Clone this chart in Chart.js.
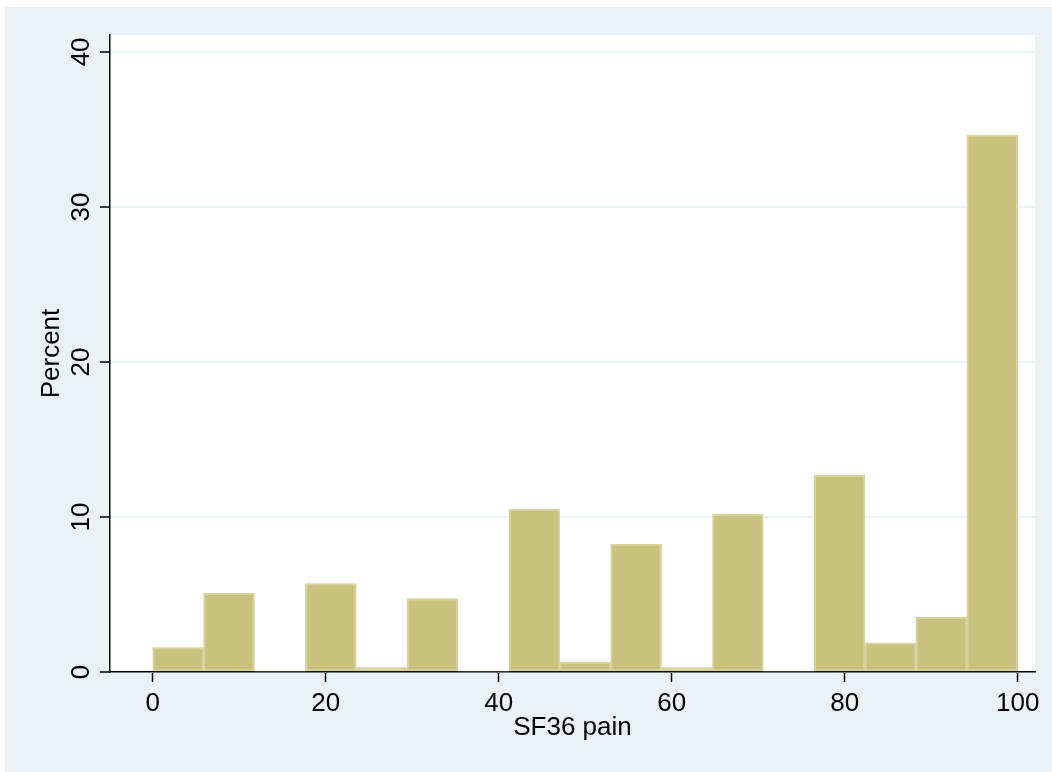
<!DOCTYPE html>
<html>
<head>
<meta charset="utf-8">
<script src="https://cdn.jsdelivr.net/npm/chart.js@4/dist/chart.umd.min.js"></script>
<style>
  html, body { margin: 0; padding: 0; background: #ffffff; }
  #wrap { width: 1052px; height: 772px; }
</style>
</head>
<body>
<div id="wrap"><canvas id="hist" width="1052" height="772"></canvas></div>
<script>
// Histogram of SF36 pain scores: 17 bins of equal width over 0–100
const binCenters = [2.94, 8.82, 14.71, 20.59, 26.47, 32.35, 38.24, 44.12, 50.00,
                    55.88, 61.76, 67.65, 73.53, 79.41, 85.29, 91.18, 97.06];
const percents   = [1.58, 5.07, 0, 5.71, 0.29, 4.74, 0, 10.49, 0.63,
                    8.23, 0.29, 10.17, 0, 12.69, 1.88, 3.52, 34.64];
const xTickValues = [0, 20, 40, 60, 80, 100];
const yTickValues = [0, 10, 20, 30, 40];
const xTitle = 'SF36 pain';
const yTitle = 'Percent';

const FONT = 'Liberation Sans, Arial, Helvetica, sans-serif';
const OUTER_BG = '#EAF2F3';
const BAR_FILL = '#C9C27F';
const BAR_EDGE = '#D8D39D';

// Paints the outer panel and the white plot region
const backdrop = {
  id: 'backdrop',
  beforeDraw(chart) {
    const { ctx, width, height, chartArea: a } = chart;
    ctx.save();
    ctx.fillStyle = '#ffffff';
    ctx.fillRect(0, 0, width, height);
    ctx.fillStyle = OUTER_BG;
    ctx.fillRect(5, 7, width - 5, height - 7);
    ctx.fillStyle = '#ffffff';
    ctx.fillRect(a.left, a.top, a.right - a.left, a.bottom - a.top);
    ctx.restore();
  }
};

const points = binCenters.map((x, i) => ({ x: x, y: percents[i] }));

new Chart(document.getElementById('hist'), {
  type: 'bar',
  data: {
    datasets: [{
      data: points,
      backgroundColor: BAR_FILL,
      borderColor: BAR_EDGE,
      borderWidth: (c) => (c.raw && c.raw.y > 0 ? 2 : 0),
      borderSkipped: false,
      barPercentage: 1,
      categoryPercentage: 1
    }]
  },
  options: {
    responsive: false,
    animation: false,
    devicePixelRatio: 1,
    layout: { padding: { left: 0, top: 35, right: 17, bottom: 0 } },
    plugins: { legend: { display: false }, tooltip: { enabled: false } },
    scales: {
      x: {
        type: 'linear',
        offset: false,
        min: -4.94,
        max: 102.0,
        afterFit(s) { s.height = 100; },
        afterBuildTicks(s) { s.ticks = xTickValues.map(v => ({ value: v })); },
        border: { display: true, color: '#000000', width: 1.5 },
        grid: {
          offset: false,
          drawOnChartArea: false,
          drawTicks: true,
          tickLength: 10,
          tickWidth: 1.5,
          tickColor: '#000000'
        },
        ticks: {
          color: '#000000',
          font: { family: FONT, size: 26 },
          padding: 6.4,
          maxRotation: 0,
          autoSkip: false
        },
        title: {
          display: true,
          text: xTitle,
          color: '#000000',
          font: { family: FONT, size: 26 },
          padding: { top: 0, bottom: 28.7 }
        }
      },
      y: {
        type: 'linear',
        min: 0,
        max: 41.09,
        afterFit(s) { s.width = 110; },
        afterBuildTicks(s) { s.ticks = yTickValues.map(v => ({ value: v })); },
        border: { display: true, color: '#000000', width: 1.5 },
        grid: {
          color: OUTER_BG,
          lineWidth: 2,
          drawTicks: true,
          tickLength: 10,
          tickWidth: 1.5,
          tickColor: '#000000'
        },
        ticks: {
          color: '#000000',
          font: { family: FONT, size: 26 },
          padding: 3.5,
          minRotation: 90,
          maxRotation: 90,
          crossAlign: 'center',
          autoSkip: false
        },
        title: {
          display: true,
          text: yTitle,
          color: '#000000',
          font: { family: FONT, size: 26 },
          padding: { top: 36, bottom: 0 }
        }
      }
    }
  },
  plugins: [backdrop]
});
</script>
</body>
</html>
